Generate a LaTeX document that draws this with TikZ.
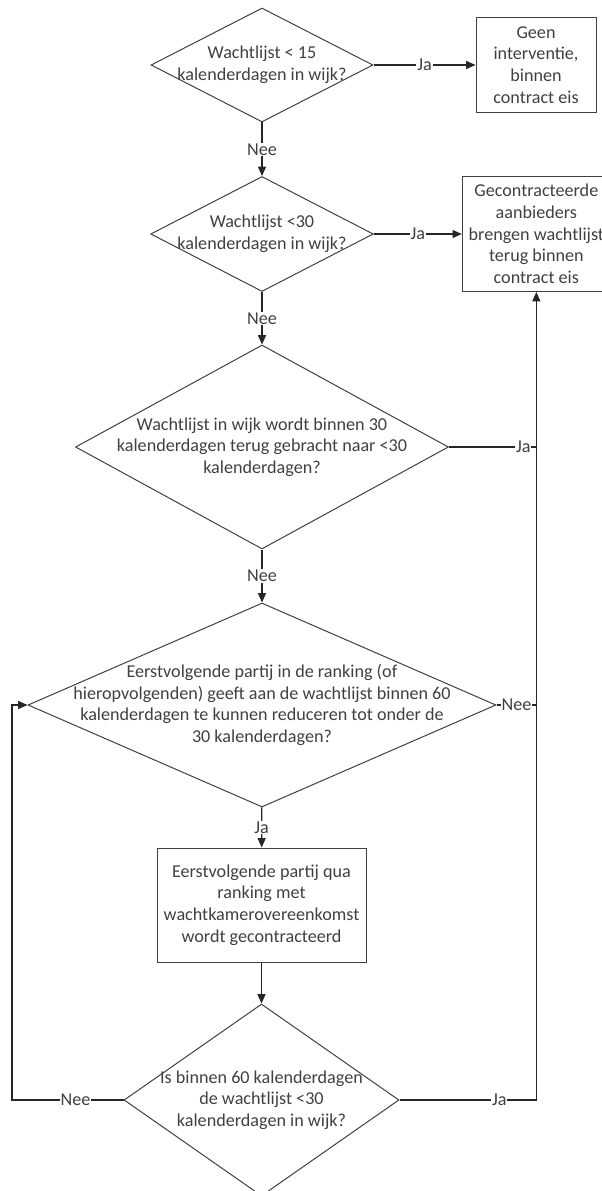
\documentclass[tikz,border=0pt]{standalone}
\usepackage{fontspec}
\setmainfont{Carlito}
\usetikzlibrary{shapes.geometric}
\usetikzlibrary{arrows.meta}
\usetikzlibrary{positioning}
\definecolor{ink}{HTML}{404040}

\begin{document}
\begin{tikzpicture}[x=0.75pt,y=-0.75pt,
  every node/.style={font=\fontsize{13.6}{16.3}\selectfont,text=ink},
  decision/.style={diamond,draw=ink,line width=0.75pt,inner sep=0pt},
  block/.style={rectangle,draw=ink,line width=0.75pt,align=center,inner sep=2pt},
  lab/.style={fill=white,inner sep=0.6pt},
  line/.style={draw=black!85,line width=0.9pt,-{Triangle[length=7pt,width=6pt]}},
  plain/.style={draw=black!85,line width=0.9pt}]
  \useasboundingbox (0,0) rectangle (601,1191);
  %first checks
  \node[decision,name=d1,at={(262,65)},minimum width=166.5pt,minimum height=85.5pt,
    label={[align=center]center:{Wachtlijst < 15\\kalenderdagen in wijk?}}]{};
  \node[block,name=b1,right=76.5pt of d1,minimum width=90pt,minimum height=71.25pt]{Geen\\interventie,\\binnen\\contract eis};
  \node[decision,name=d2,at={(262,234)},minimum width=167pt,minimum height=86.25pt,
    label={[align=center]center:{Wachtlijst <30\\kalenderdagen in wijk?}}]{};
  \node[block,name=b2,right=66pt of d2,minimum width=111pt,minimum height=86.25pt]{Gecontracteerde\\aanbieders\\brengen wachtlijst\\terug binnen\\contract eis};
  %30 days
  \node[decision,name=d3,at={(262,447)},minimum width=279.75pt,minimum height=153pt,
    label={[align=center]center:{Wachtlijst in wijk wordt binnen 30\\kalenderdagen terug gebracht naar <30\\kalenderdagen?}}]{};
  %ranking
  \node[decision,name=d4,at={(262,705)},minimum width=351pt,minimum height=153pt,
    label={[align=center]center:{Eerstvolgende partij in de ranking (of\\hieropvolgenden) geeft aan de wachtlijst binnen 60\\kalenderdagen te kunnen reduceren tot onder de\\30 kalenderdagen?}}]{};
  \node[block,name=b3,at={(261.5,905)},minimum width=156.75pt,minimum height=85.5pt]{Eerstvolgende partij qua\\ranking met\\wachtkamerovereenkomst\\wordt gecontracteerd};
  %60 days
  \node[decision,name=d5,at={(261.5,1100)},minimum width=206.25pt,minimum height=144pt,
    label={[align=center]center:{Is binnen 60 kalenderdagen\\de wachtlijst <30\\kalenderdagen in wijk?}}]{};
  \coordinate (back) at (12,705);

  %connectors
  \draw[line] (d1) -- node[lab]{Ja} (b1);
  \draw[line] (d1) -- node[lab]{Nee} (d2);
  \draw[line] (d2) -- node[lab]{Ja} (b2);
  \draw[line] (d2) -- node[lab]{Nee} (d3);
  \draw[plain] (d3.east) -- node[lab,pos=0.85]{Ja} (d3.east -| b2.south);
  \draw[line] (d3) -- node[lab]{Nee} (d4);
  \draw[plain] (d4.east) -- node[lab]{Nee} (d4.east -| b2.south);
  \draw[line] (d4) -- node[lab]{Ja} (b3);
  \draw[line] (b3) -- (d5);
  \draw[line] (d5.east) -- node[lab,pos=0.73]{Ja} (d5.east -| b2.south) -- (b2.south);
  \draw[line] (d5.west) -- node[lab,pos=0.43]{Nee} (d5.west -| back) -- (back) -- (d4.west);
\end{tikzpicture}
\end{document}
